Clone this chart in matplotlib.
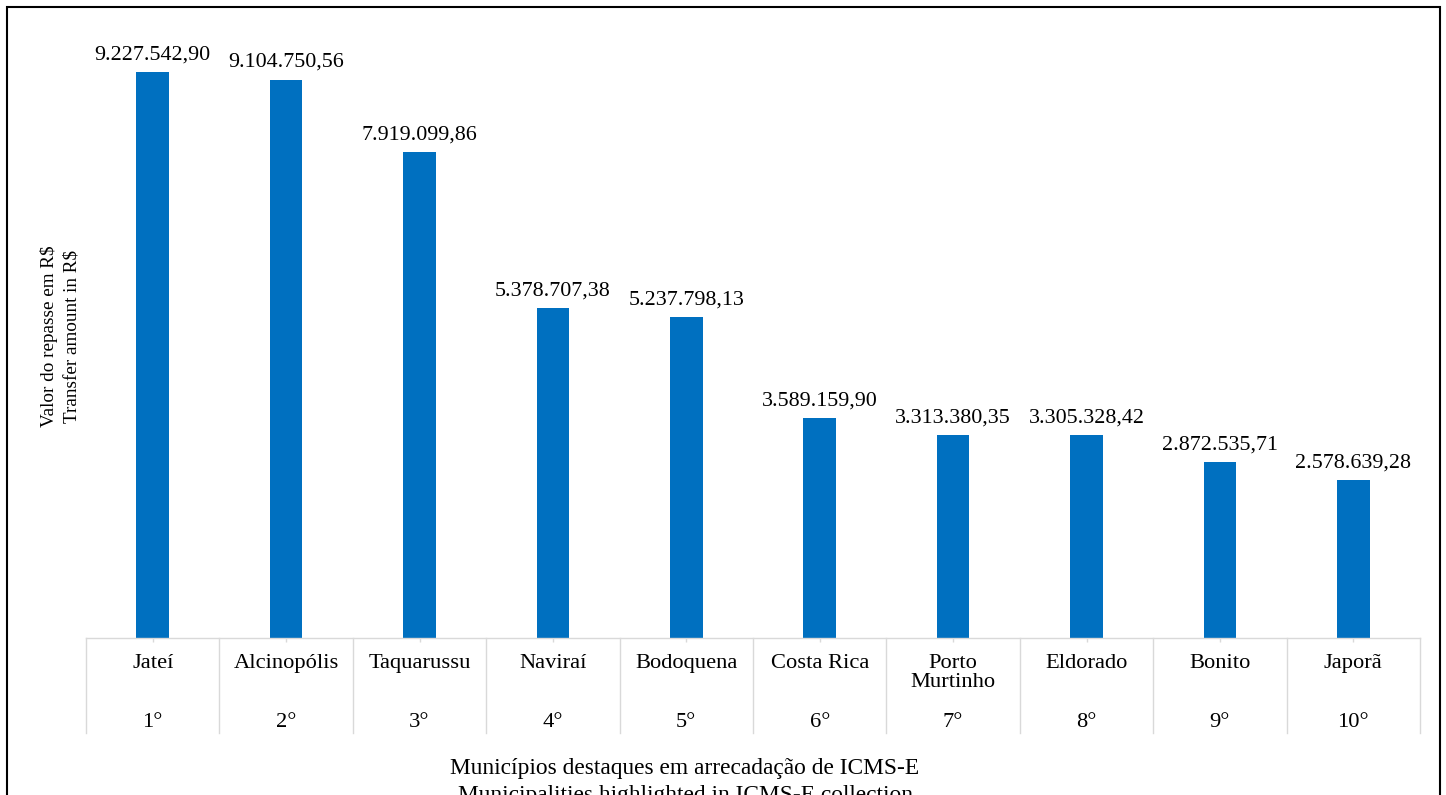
import matplotlib.pyplot as plt
from matplotlib.patches import Rectangle
import matplotlib.transforms as mtransforms

plt.rcParams['font.family'] = ['Liberation Serif', 'DejaVu Serif']

# dados
municipios = ["Jateí", "Alcinopólis", "Taquarussu", "Naviraí", "Bodoquena",
              "Costa Rica", "Porto\nMurtinho", "Eldorado", "Bonito", "Japorã"]
posicoes = ["1°", "2°", "3°", "4°", "5°", "6°", "7°", "8°", "9°", "10°"]
valores = [9227542.90, 9104750.56, 7919099.86, 5378707.38, 5237798.13,
           3589159.90, 3313380.35, 3305328.42, 2872535.71, 2578639.28]

W, H = 1446, 795
fig = plt.figure(figsize=(W / 100, H / 100), dpi=100)

# area do grafico em pixels
x0, x1 = 86, 1420
y_base, y_top = 638, 24.6
ax = fig.add_axes([x0 / W, (H - y_base) / H, (x1 - x0) / W, (y_base - y_top) / H])
ax_h = y_base - y_top

x = list(range(len(valores)))
ax.bar(x, valores, width=0.245, color="#0070C0", zorder=2)
ax.set_xlim(-0.5, len(valores) - 0.5)
ax.set_ylim(0, 10e6)

for s in ["top", "right", "left"]:
    ax.spines[s].set_visible(False)
ax.spines["bottom"].set_color("#d9d9d9")
ax.spines["bottom"].set_linewidth(1)
ax.set_yticks([])
ax.set_xticks(x)
ax.set_xticklabels([])
ax.tick_params(axis="x", length=3, color="#d9d9d9", width=1)

# rotulos dos valores
for xi, v in zip(x, valores):
    txt = f"{v:,.2f}".replace(",", "X").replace(".", ",").replace("X", ".")
    ax.annotate(txt, (xi, v), xytext=(0, 9), textcoords="offset points",
                ha="center", va="baseline", fontsize=15.8)

# eixo de categorias em dois niveis
trans = mtransforms.blended_transform_factory(ax.transData, ax.transAxes)
sep_bottom = -(733 - y_base) / ax_h
for i in range(len(valores) + 1):
    ax.plot([i - 0.5, i - 0.5], [0, sep_bottom], color="#d9d9d9", lw=1,
            transform=trans, clip_on=False)

for xi, nome, pos in zip(x, municipios, posicoes):
    for k, linha in enumerate(nome.split("\n")):
        yb = -(668 + 19 * k - y_base) / ax_h
        ax.text(xi, yb, linha, transform=trans, ha="center", va="baseline",
                fontsize=16.2)
    ax.text(xi, -(727 - y_base) / ax_h, pos, transform=trans, ha="center",
            va="baseline", fontsize=16.2)

# titulos dos eixos
fig.text(54 / W, (H - 336) / H, "Valor do repasse em R$", rotation=90,
         rotation_mode="anchor", ha="center", va="baseline", fontsize=13.8)
fig.text(76 / W, (H - 336) / H, "Transfer amount in R$", rotation=90,
         rotation_mode="anchor", ha="center", va="baseline", fontsize=13.8)
fig.text(685 / W, (H - 774) / H, "Municípios destaques em arrecadação de ICMS-E",
         ha="center", va="baseline", fontsize=16.8)
fig.text(685 / W, (H - 801) / H, "Municipalities highlighted in ICMS-E collection",
         ha="center", va="baseline", fontsize=16.8)

# moldura
fig.patches.append(Rectangle((7 / W, -0.05), (1439.5 - 7) / W, (H - 6.5) / H + 0.05,
                             transform=fig.transFigure, fill=False,
                             edgecolor="black", lw=1.5))

fig.savefig("out.png", dpi=100)
